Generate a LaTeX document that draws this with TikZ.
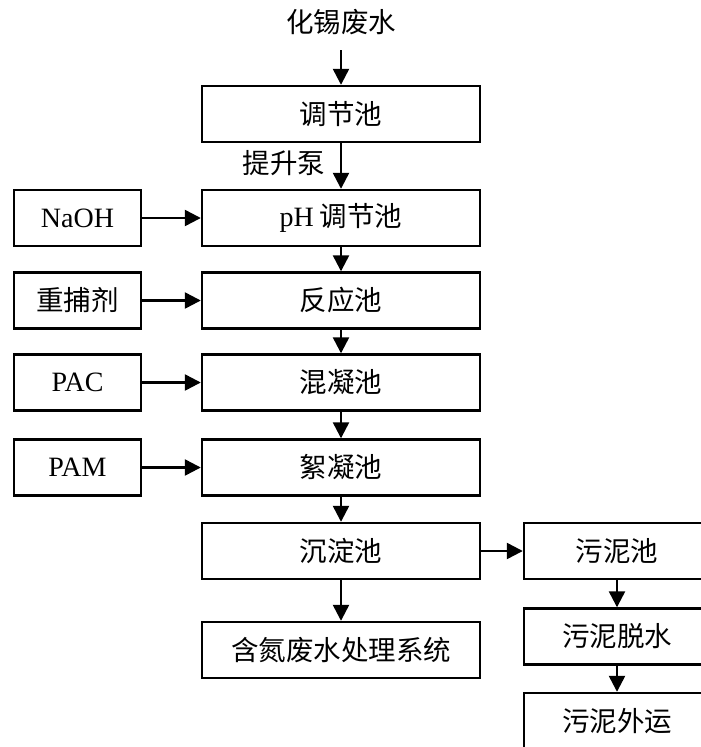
\documentclass[tikz,border=0pt]{standalone}
\usepackage{fontspec}
\setmainfont{Liberation Serif}
\newfontfamily\cjk{Noto Sans CJK SC}
\usetikzlibrary{arrows.meta}
\begin{document}
\begin{tikzpicture}[x=1pt,y=-1pt,
  box/.style={draw,line width=2.4pt,rectangle,minimum height=56pt,inner sep=0pt,font=\fontsize{27.5}{30}\selectfont\cjk},
  mainbox/.style={box,minimum width=278pt},
  sidebox/.style={box,minimum width=127pt},
  rightbox/.style={box,minimum width=186pt},
  latin/.style={font=\fontsize{28}{30}\selectfont\rmfamily},
  arr/.style={line width=2.4pt,-{Triangle[length=16pt,width=16pt]}},
  lbl/.style={font=\fontsize{27.5}{30}\selectfont\cjk,inner sep=0pt}]
\clip (0,0) rectangle (701,747);
\fill[white] (0,0) rectangle (701,747);
% main column
\node[lbl] (src) at (341,22) {化锡废水};
\coordinate (srcend) at (341,50);
\node[mainbox] (tj) at (341,114) {调节池};
\node[mainbox] (ph) at (341,218) {{\rmfamily\fontsize{28}{30}\selectfont pH} 调节池};
\node[mainbox] (fy) at (341,300.5) {反应池};
\node[mainbox] (hn) at (341,382.5) {混凝池};
\node[mainbox] (xn) at (341,467.5) {絮凝池};
\node[mainbox] (cd) at (341,551) {沉淀池};
\node[mainbox] (hd) at (341,650) {含氮废水处理系统};
% side column
\node[sidebox,latin] (naoh) at (77.5,218) {NaOH};
\node[sidebox] (zbj) at (77.5,300.5) {重捕剂};
\node[sidebox,latin] (pac) at (77.5,382.5) {PAC};
\node[sidebox,latin] (pam) at (77.5,467.5) {PAM};
% right column
\node[rightbox] (wnc) at (617,551) {污泥池};
\node[rightbox] (wnts) at (617,636.5) {污泥脱水};
\node[rightbox] (wnwy) at (617,721) {污泥外运};
% label
\node[lbl] (tsb) at (284,163) {提升泵};
% arrows
\draw[arr] (srcend) -- (tj.north);
\draw[arr] (tj.south) -- (ph.north);
\draw[arr] (ph.south) -- (fy.north);
\draw[arr] (fy.south) -- (hn.north);
\draw[arr] (hn.south) -- (xn.north);
\draw[arr] (xn.south) -- (cd.north);
\draw[arr] (cd.south) -- (hd.north);
\draw[arr] (naoh.east) -- (ph.west);
\draw[arr] (zbj.east) -- (fy.west);
\draw[arr] (pac.east) -- (hn.west);
\draw[arr] (pam.east) -- (xn.west);
\draw[arr] (cd.east) -- (wnc.west);
\draw[arr] (wnc.south) -- (wnts.north);
\draw[arr] (wnts.south) -- (wnwy.north);
\end{tikzpicture}
\end{document}
